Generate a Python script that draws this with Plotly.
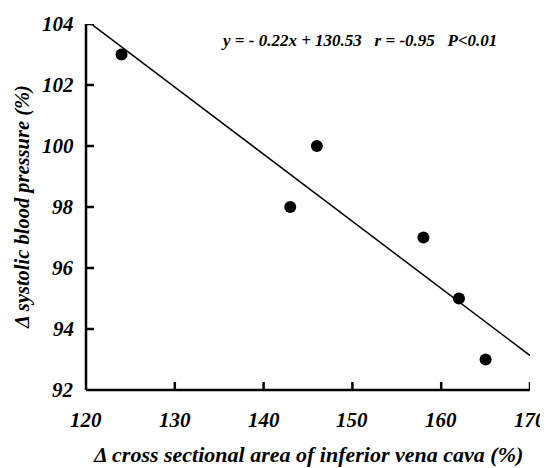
import plotly.graph_objects as go

area_change = [124, 143, 146, 158, 162, 165]
sbp_change = [103, 98, 100, 97, 95, 93]
fit_x = [120, 170]
slope = -0.22
intercept = 130.53
fit_y = [slope * v + intercept for v in fit_x]
x_ticks = [120, 130, 140, 150, 160, 170]
y_ticks = [92, 94, 96, 98, 100, 102, 104]
x_title = "Δ cross sectional area of inferior vena cava (%)"
y_title = "Δ systolic blood pressure (%)"
eq_text = "y = - 0.22x + 130.53&nbsp;&nbsp;&nbsp;r = -0.95&nbsp;&nbsp;&nbsp;P&lt;0.01"

FONT = "Liberation Serif"

def bi(t):
    return "<b><i>%s</i></b>" % t

fig = go.Figure()
fig.add_trace(go.Scatter(x=fit_x, y=fit_y, mode="lines",
                         line=dict(color="black", width=1.5), showlegend=False))
fig.add_trace(go.Scatter(x=area_change, y=sbp_change, mode="markers",
                         marker=dict(color="black", size=12), showlegend=False))

# equation
fig.add_annotation(x=0.93, y=1.0, xref="paper", yref="paper", xanchor="right", yanchor="middle",
                   yshift=-16, text=bi(eq_text), showarrow=False,
                   font=dict(family=FONT, size=17, color="black"))

# axis lines and inward ticks
axis_line = dict(color="black", width=2.5)
fig.add_shape(type="line", xref="paper", yref="paper", x0=0, x1=0, y0=0, y1=1, line=axis_line)
fig.add_shape(type="line", xref="paper", yref="paper", x0=0, x1=1, y0=0, y1=0, line=axis_line)
for v in x_ticks[1:]:
    fig.add_shape(type="line", xref="x", yref="y", ysizemode="pixel", yanchor=92,
                  x0=v, x1=v, y0=0, y1=8, line=axis_line)
for v in y_ticks[1:]:
    fig.add_shape(type="line", xref="x", yref="y", xsizemode="pixel", xanchor=120,
                  y0=v, y1=v, x0=0, x1=8, line=axis_line)

tick_font = dict(family=FONT, size=21, color="black")
for v in x_ticks:
    fig.add_annotation(x=v, y=0, xref="x", yref="paper", xanchor="center", yanchor="middle",
                       yshift=-30, text=bi(v), showarrow=False, font=tick_font)
for v in y_ticks:
    fig.add_annotation(x=0, y=v, xref="paper", yref="y", xanchor="right", yanchor="middle",
                       xshift=-10, text=bi(v), showarrow=False, font=tick_font)

# axis titles
fig.add_annotation(x=0.5, y=0, xref="paper", yref="paper", xanchor="center", yanchor="middle",
                   yshift=-64, text=bi(x_title), showarrow=False,
                   font=dict(family=FONT, size=22, color="black"))
fig.add_annotation(x=0, y=0.5, xref="paper", yref="paper", xanchor="center", yanchor="middle",
                   xshift=-64, textangle=-90, text=bi(y_title), showarrow=False,
                   font=dict(family=FONT, size=20.5, color="black"))

fig.update_layout(
    width=540, height=460, margin=dict(l=78, r=18, t=16, b=78),
    plot_bgcolor="white", paper_bgcolor="white",
    xaxis=dict(range=[120, 170], showgrid=False, zeroline=False, showline=False,
               ticks="", showticklabels=False),
    yaxis=dict(range=[92, 104], showgrid=False, zeroline=False, showline=False,
               ticks="", showticklabels=False),
)

fig.write_html("out.html")
